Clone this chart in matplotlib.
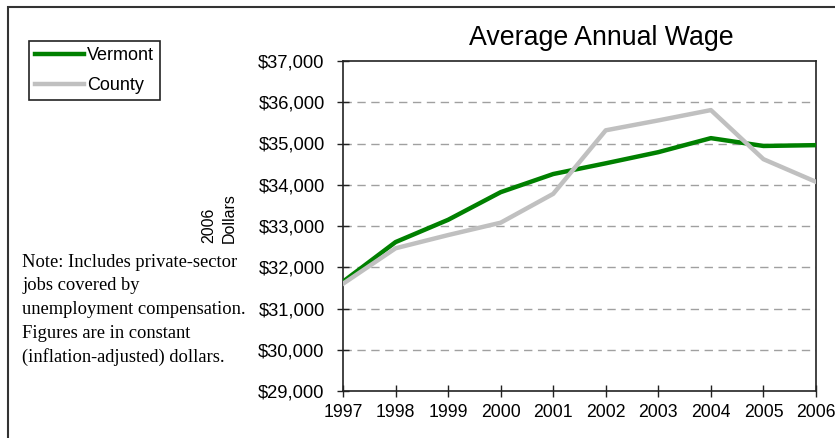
import matplotlib.pyplot as plt
from matplotlib.patches import Rectangle
from matplotlib.ticker import FuncFormatter

years = [1997, 1998, 1999, 2000, 2001, 2002, 2003, 2004, 2005, 2006]
vermont = [31650, 32610, 33150, 33820, 34260, 34520, 34790, 35130, 34940, 34960]
county = [31600, 32460, 32780, 33080, 33780, 35320, 35560, 35810, 34620, 34070]

plt.rcParams['font.family'] = ['Liberation Sans', 'DejaVu Sans']

fig = plt.figure(figsize=(8.35, 4.38), dpi=100)
ax = fig.add_axes([343 / 835, 1 - 391 / 438, (816 - 343) / 835, (391 - 61) / 438])

ax.plot(years, vermont, color='#008000', lw=3.2, label='Vermont', zorder=3)
ax.plot(years, county, color='#c0c0c0', lw=3.2, label='County', zorder=4)

ax.set_xlim(1997, 2006)
ax.set_ylim(29000, 37000)
ax.set_xticks(years)
ax.set_yticks(range(29000, 37001, 1000))
ax.yaxis.set_major_formatter(FuncFormatter(lambda v, p: '${:,.0f}'.format(v)))
ax.tick_params(axis='both', direction='inout', length=8.5, width=1, color='#222222')
ax.tick_params(axis='y', pad=9, labelsize=13.2)
ax.tick_params(axis='x', pad=5, labelsize=12.7)
for v in range(30000, 37000, 1000):
    ax.axhline(v, color='#a0a0a0', lw=1, ls=(0, (6, 4)), zorder=1)
for s in ax.spines.values():
    s.set_color('#222222')
    s.set_linewidth(1.2)

fig.text(601 / 835, 1 - 38 / 438, 'Average Annual Wage', fontsize=19.3,
         ha='center', va='center')

fig.text(219 / 835, 1 - 243 / 438, '2006\nDollars', rotation=90, fontsize=11.5,
         ha='center', va='bottom', multialignment='left', linespacing=1.4)

note = ('Note: Includes private-sector\njobs covered by\n'
        'unemployment compensation.\nFigures are in constant\n'
        '(inflation-adjusted) dollars.')
fig.text(22 / 835, 1 - 254 / 438, note, family=['Liberation Serif', 'DejaVu Serif'],
         fontsize=13.3, ha='left', va='top', linespacing=1.5)

leg = fig.legend(loc='upper left', bbox_to_anchor=(29 / 835, 1 - 41 / 438),
                 fontsize=13, frameon=True, fancybox=False, edgecolor='#222222',
                 framealpha=1, borderpad=0.35, borderaxespad=0, handlelength=2.7,
                 handletextpad=0.15, labelspacing=0.7)
leg.get_frame().set_linewidth(1.2)

fig.patches.append(Rectangle((8 / 835, -0.1), 1.2, 1 - 7 / 438 + 0.1,
                             transform=fig.transFigure, fill=False,
                             edgecolor='#333333', lw=1.5))

fig.savefig('out.png', dpi=100)
